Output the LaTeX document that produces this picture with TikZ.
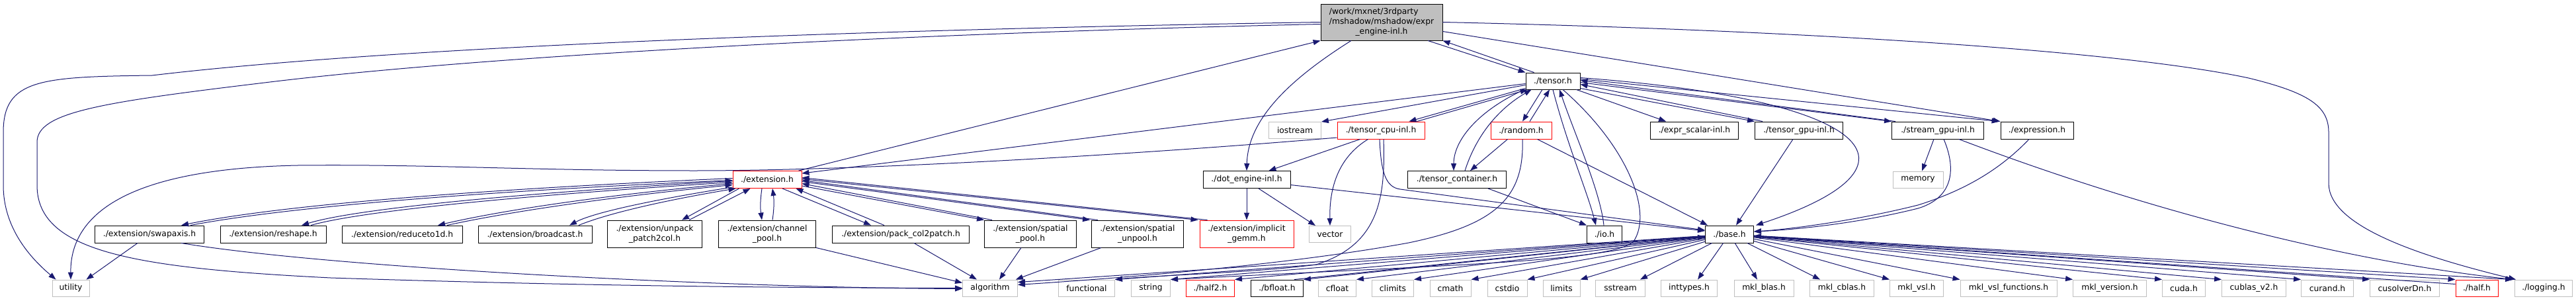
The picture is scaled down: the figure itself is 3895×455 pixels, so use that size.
\documentclass[tikz,border=0pt]{standalone}
\usepackage{fontspec}
\setmainfont{DejaVu Sans}
\usepackage{tikz}
\usetikzlibrary{arrows.meta,calc}

\definecolor{navyline}{HTML}{191970}
\definecolor{sysgray}{HTML}{BFBFBF}
\definecolor{cutred}{HTML}{FF0000}

\tikzset{
  box/.style={draw, line width=0.9pt, fill=white, inner sep=1pt, minimum height=26,
    font=\fontsize{12.3}{15}\selectfont},
  hdr/.style={box, draw=black},
  sys/.style={box, draw=sysgray, minimum height=25},
  trunc/.style={box, draw=cutred},
  two/.style={align=center, minimum height=41},
  inc/.style={draw=navyline, line width=1pt, -{Triangle[length=11pt,width=8pt]}},
}

\begin{document}
\begin{tikzpicture}[x=1pt, y=-1pt]
      \useasboundingbox (0,0) rectangle (3895,455);
      % the file itself
      \node[hdr, fill=sysgray, minimum width=184, minimum height=55] (main) at (2089,33.5)
        {\begin{tabular}{@{}l@{}}/work/mxnet/3rdparty\\/mshadow/mshadow/expr\\\multicolumn{1}{@{}c@{}}{\_engine-inl.h}\end{tabular}};
      % second and third row
      \node[hdr, minimum width=82, minimum height=25] (tensor) at (2348,122.5) {./tensor.h};
      \node[sys, minimum width=79] (iostream) at (1958,197) {iostream};
      \node[trunc, minimum width=132] (tcpu) at (2088,197) {./tensor\_cpu-inl.h};
      \node[trunc, minimum width=92] (random) at (2300,197) {./random.h};
      \node[hdr, minimum width=133] (exprscalar) at (2562,197) {./expr\_scalar-inl.h};
      \node[hdr, minimum width=133] (tgpu) at (2720,197) {./tensor\_gpu-inl.h};
      \node[hdr, minimum width=139] (streamgpu) at (2930,197) {./stream\_gpu-inl.h};
      \node[hdr, minimum width=110] (expression) at (3080,197) {./expression.h};
      \node[trunc, minimum width=104] (extension) at (1160,271.5) {./extension.h};
      \node[hdr, minimum width=132] (dotengine) at (1885,271.5) {./dot\_engine-inl.h};
      \node[hdr, minimum width=149] (tcontainer) at (2203,271.5) {./tensor\_container.h};
      \node[sys, minimum width=76] (memory) at (2900,271.5) {memory};
      % extension headers
      \node[hdr, minimum width=165] (swapaxis) at (226,354) {./extension/swapaxis.h};
      \node[hdr, minimum width=160] (reshape) at (413,354) {./extension/reshape.h};
      \node[hdr, minimum width=182] (reduceto) at (608,354) {./extension/reduceto1d.h};
      \node[hdr, minimum width=172] (broadcast) at (809,354) {./extension/broadcast.h};
      \node[hdr, two, minimum width=143] (unpack) at (990,353.5) {./extension/unpack\\\_patch2col.h};
      \node[hdr, two, minimum width=147] (channel) at (1160,353.5) {./extension/channel\\\_pool.h};
      \node[hdr, minimum width=207] (packcol) at (1362,354) {./extension/pack\_col2patch.h};
      \node[hdr, two, minimum width=139] (spool) at (1558,353.5) {./extension/spatial\\\_pool.h};
      \node[hdr, two, minimum width=139] (sunpool) at (1720,353.5) {./extension/spatial\\\_unpool.h};
      \node[trunc, two, minimum width=142] (gemm) at (1885,353.5) {./extension/implicit\\\_gemm.h};
      \node[sys, minimum width=63] (vector) at (2011,354) {vector};
      \node[hdr, minimum width=53] (io) at (2426,354) {./io.h};
      \node[hdr, minimum width=73] (base) at (2615,354) {./base.h};
      % bottom row
      \node[sys, minimum width=56] (utility) at (107,435.5) {utility};
      \node[sys, minimum width=83] (algorithm) at (1497,435.5) {algorithm};
      \node[sys, minimum width=85] (functional) at (1643,435.5) {functional};
      \node[sys, minimum width=59] (string) at (1740,435.5) {string};
      \node[trunc, minimum width=73, minimum height=25] (half2) at (1830,435.5) {./half2.h};
      \node[hdr, minimum width=79, minimum height=25] (bfloat) at (1931,435.5) {./bfloat.h};
      \node[sys, minimum width=57] (cfloat) at (2022,435.5) {cfloat};
      \node[sys, minimum width=63] (climits) at (2106,435.5) {climits};
      \node[sys, minimum width=62] (cmath) at (2193,435.5) {cmath};
      \node[sys, minimum width=60] (cstdio) at (2279,435.5) {cstdio};
      \node[sys, minimum width=56] (limits) at (2361,435.5) {limits};
      \node[sys, minimum width=75] (sstream) at (2450,435.5) {sstream};
      \node[sys, minimum width=85] (inttypes) at (2554,435.5) {inttypes.h};
      \node[sys, minimum width=90] (mklblas) at (2667,435.5) {mkl\_blas.h};
      \node[sys, minimum width=97] (mklcblas) at (2785,435.5) {mkl\_cblas.h};
      \node[sys, minimum width=81] (mklvsl) at (2898,435.5) {mkl\_vsl.h};
      \node[sys, minimum width=146] (mklvslf) at (3037,435.5) {mkl\_vsl\_functions.h};
      \node[sys, minimum width=111] (mklver) at (3190,435.5) {mkl\_version.h};
      \node[sys, minimum width=65] (cuda) at (3302,435.5) {cuda.h};
      \node[sys, minimum width=97] (cublas) at (3408,435.5) {cublas\_v2.h};
      \node[sys, minimum width=79] (curand) at (3519,435.5) {curand.h};
      \node[sys, minimum width=105] (cusolver) at (3636,435.5) {cusolverDn.h};
      \node[trunc, minimum width=64, minimum height=25] (half) at (3745,435.5) {./half.h};
      \node[sys, minimum width=87] (logging) at (3846,435.5) {./logging.h};

      % includes of the file itself
      \draw[inc] (main.west) .. controls (1300,45) and (600,70) .. (230,114) .. controls (60,116) and (5,120) .. (5,200) -- (5,280) .. controls (5,340) and (40,385) .. (utility.150);
      \draw[inc] ($(main.west)+(0,3)$) .. controls (1300,52) and (700,88) .. (400,125) .. controls (150,155) and (56,170) .. (56,215) -- (56,280) .. controls (56,380) and (200,405) .. (500,420) .. controls (900,433) and (1200,435) .. (algorithm.west);
      \draw[inc] ($(main.south)+(-46,0)$) .. controls (1950,120) and (1887,180) .. (dotengine.north);
      \draw[inc] ($(main.south)+(70,0)$) -- (tensor.north west);
      \draw[inc] ($(tensor.north west)+(13,0)$) -- (main.south east);
      \draw[inc] (main.east) .. controls (2700,45) and (3200,75) .. (3400,118) .. controls (3490,140) and (3521,160) .. (3521,200) -- (3521,277) .. controls (3521,340) and (3650,385) .. ($(logging.north west)+(2,0)$);
      \draw[inc] ($(main.east)+(0,14)$) -- (expression.north west);
      \draw[inc] ($(extension.north east)+(-5,0)$) -- (main.south west);

      % tensor.h
      \draw[inc] ($(tensor.west)+(0,6)$) -- (iostream.north east);
      \draw[inc] ($(tensor.west)+(0,4)$) -- ($(extension.north east)+(0,4)$);
      \draw[inc] ($(tensor.south west)+(0,-2)$) -- ($(tcpu.north east)+(-24,0)$);
      \draw[inc] ($(tcpu.north east)+(-12,0)$) -- ($(tensor.south west)+(3,0)$);
      \draw[inc] ($(tensor.south west)+(-2,0)$) .. controls (2230,170) and (2198,215) .. ($(tcontainer.north)+(-5,0)$);
      \draw[inc] ($(tcontainer.north)+(12,0)$) .. controls (2232,205) and (2265,165) .. ($(tensor.south west)+(9,0)$);
      \draw[inc] ($(tensor.south)+(-16,0)$) -- ($(random.north)+(2,0)$);
      \draw[inc] ($(random.north)+(13,0)$) -- ($(tensor.south)+(-5,0)$);
      \draw[inc] (tensor.south) .. controls (2370,220) and (2400,290) .. ($(io.north)+(-13,0)$);
      \draw[inc] ($(io.north)+(-1,0)$) .. controls (2420,290) and (2380,200) .. ($(tensor.south)+(10,0)$);
      \draw[inc] ($(tensor.south)+(15,0)$) .. controls (2460,220) and (2500,320) .. (2470,365) .. controls (2440,395) and (2200,400) .. (string.north east);
      \draw[inc] ($(tensor.south east)+(-6,0)$) -- ($(exprscalar.north west)+(24,0)$);
      \draw[inc] ($(tensor.east)+(0,11)$) -- (tgpu.north west);
      \draw[inc] ($(tgpu.north west)+(12,0)$) -- ($(tensor.east)+(0,5)$);
      \draw[inc] ($(tensor.east)+(0,2)$) -- (streamgpu.north west);
      \draw[inc] ($(streamgpu.north west)+(6,0)$) -- ($(tensor.east)+(0,-1)$);
      \draw[inc] ($(tensor.east)+(0,-3)$) -- ($(expression.north west)+(-2,0)$);
      \draw[inc] ($(tensor.east)+(0,-5)$) .. controls (2830,150) and (2930,250) .. ($(base.north east)+(3,0)$);

      % tensor_cpu-inl.h
      \draw[inc] ($(tcpu.south west)+(35,0)$) -- ($(dotengine.north east)+(-33,0)$);
      \draw[inc] ($(tcpu.south west)+(47,0)$) .. controls (2020,240) and (2010,290) .. (vector.north);
      \draw[inc] ($(tcpu.south)+(-2,0)$) .. controls (2088,260) and (2095,283) .. (2117,286) -- ($(base.west)+(0,-6)$);
      \draw[inc] ($(tcpu.south)+(4,0)$) .. controls (2095,300) and (2085,370) .. (1990,400) .. controls (1900,412) and (1750,416) .. (functional.north east);
      \draw[inc] ($(tcpu.west)+(0,11)$) .. controls (1700,235) and (1300,258) .. (1050,258) .. controls (800,258) and (650,248) .. (450,250) .. controls (200,255) and (106,320) .. (utility.north);

      % random.h, tensor_container.h
      \draw[inc] ($(random.south west)+(26,0)$) -- ($(tcontainer.north)+(20,0)$);
      \draw[inc] ($(random.south east)+(-22,0)$) -- ($(base.north west)+(4,0)$);
      \draw[inc] ($(random.south)+(2,0)$) .. controls (2305,300) and (2260,340) .. (2130,367) .. controls (1950,400) and (1700,420) .. ($(algorithm.east)+(0,-5)$);
      \draw[inc] ($(tcontainer.south)+(47,0)$) -- (io.north west);

      % dot_engine-inl.h
      \draw[inc] (dotengine.south) -- (gemm.north);
      \draw[inc] ($(dotengine.south)+(18,0)$) -- ($(vector.north west)+(10,0)$);
      \draw[inc] ($(dotengine.east)+(0,8)$) -- ($(base.west)+(0,-5)$);

      % gpu side
      \draw[inc] ($(tgpu.south)+(-9,0)$) -- ($(base.north)+(10,0)$);
      \draw[inc] ($(streamgpu.south)+(-6,0)$) -- ($(memory.north)+(6,0)$);
      \draw[inc] ($(streamgpu.south)+(9,0)$) .. controls (2960,260) and (2950,300) .. (2900,315) .. controls (2800,340) and (2700,348) .. ($(base.east)+(0,-4)$);
      \draw[inc] ($(streamgpu.south east)+(-38,0)$) .. controls (3250,320) and (3550,395) .. ($(logging.north west)+(-2,0)$);
      \draw[inc] ($(expression.south)+(-12,0)$) .. controls (3030,250) and (2980,285) .. (2900,310) .. controls (2800,335) and (2700,347) .. ($(base.east)+(0,-4)$);

      % extension.h and its headers
      \draw[inc] ($(extension.west)+(0,-2)$) .. controls (800,283) and (450,305) .. ($(swapaxis.north)+(48,0)$);
      \draw[inc] ($(swapaxis.north)+(62,0)$) .. controls (460,308) and (800,286) .. ($(extension.west)+(0,1)$);
      \draw[inc] ($(extension.west)+(0,2)$) .. controls (850,288) and (550,312) .. ($(reshape.north)+(43,0)$);
      \draw[inc] ($(reshape.north)+(57,0)$) .. controls (560,315) and (860,291) .. ($(extension.west)+(0,4)$);
      \draw[inc] ($(extension.west)+(0,6)$) .. controls (900,296) and (750,320) .. ($(reduceto.north)+(54,0)$);
      \draw[inc] ($(reduceto.north)+(68,0)$) .. controls (760,322) and (910,299) .. ($(extension.west)+(0,8)$);
      \draw[inc] ($(extension.south west)+(0,-2)$) .. controls (1000,300) and (900,320) .. ($(broadcast.north)+(52,0)$);
      \draw[inc] ($(broadcast.north)+(66,0)$) .. controls (920,322) and (1010,302) .. ($(extension.south west)+(5,0)$);
      \draw[inc] ($(extension.south west)+(10,0)$) -- ($(unpack.north)+(41,0)$);
      \draw[inc] ($(unpack.north)+(52,0)$) -- ($(extension.south west)+(27,0)$);
      \draw[inc] ($(extension.south)+(-8,0)$) to[bend right=8] ($(channel.north)+(-8,0)$);
      \draw[inc] ($(channel.north)+(8,0)$) to[bend right=8] ($(extension.south)+(8,0)$);
      \draw[inc] ($(extension.south)+(23,0)$) -- ($(packcol.north)+(-45,0)$);
      \draw[inc] ($(packcol.north)+(-25,0)$) -- ($(extension.south east)+(-9,0)$);
      \draw[inc] ($(extension.south east)+(0,-4)$) -- (spool.north west);
      \draw[inc] ($(spool.north west)+(12,0)$) -- ($(extension.east)+(0,6)$);
      \draw[inc] ($(extension.east)+(0,3)$) -- ($(sunpool.north west)+(-2,0)$);
      \draw[inc] ($(sunpool.north west)+(10,0)$) -- ($(extension.east)+(0,1)$);
      \draw[inc] ($(extension.east)+(0,-1)$) -- ($(gemm.north west)+(-2,0)$);
      \draw[inc] ($(gemm.north west)+(12,0)$) -- ($(extension.east)+(0,-3)$);

      % extension headers down to the system headers
      \draw[inc] ($(swapaxis.south west)+(65,0)$) -- ($(utility.north east)+(-5,0)$);
      \draw[inc] ($(swapaxis.south)+(48,0)$) .. controls (500,405) and (1100,435) .. ($(algorithm.west)+(0,1)$);
      \draw[inc] (channel.south east) -- ($(algorithm.west)+(0,-8)$);
      \draw[inc] ($(packcol.south)+(20,0)$) -- ($(algorithm.north)+(-20,0)$);
      \draw[inc] ($(spool.south)+(-14,0)$) -- ($(algorithm.north)+(14,0)$);
      \draw[inc] ($(sunpool.south west)+(15,0)$) -- ($(algorithm.north east)+(-3,0)$);

      % base.h
      \draw[inc] (base) -- ($(algorithm.north east)+(0,4)$);
      \draw[inc] (base) -- (functional.north east);
      \draw[inc] (base) -- (string.north east);
      \draw[inc] (base) -- (half2.north east);
      \draw[inc] (base) -- (bfloat.north east);
      \draw[inc] ($(bfloat.north east)+(-14,0)$) -- (base);
      \draw[inc] (base) -- (cfloat.north east);
      \draw[inc] (base) -- (climits.north east);
      \draw[inc] (base) -- (cmath.north east);
      \draw[inc] (base) -- (cstdio.north east);
      \draw[inc] (base) -- (limits.north east);
      \draw[inc] (base) -- ($(sstream.north east)+(-8,0)$);
      \draw[inc] (base) -- ($(inttypes.north)+(13,0)$);
      \draw[inc] (base) -- ($(mklblas.north)+(-10,0)$);
      \draw[inc] (base) -- ($(mklcblas.north west)+(16,0)$);
      \draw[inc] (base) -- (mklvsl.north west);
      \draw[inc] (base) -- (mklvslf.north west);
      \draw[inc] (base) -- (mklver.north west);
      \draw[inc] (base) -- (cuda.north west);
      \draw[inc] (base) -- (cublas.north west);
      \draw[inc] (base) -- (curand.north west);
      \draw[inc] (base) -- (cusolver.north west);
      \draw[inc] (base) -- (half.north west);
      \draw[inc] ($(half.west)+(0,-6)$) -- (base);
      \draw[inc] (base) -- ($(logging.north west)+(-3,0)$);
    \end{tikzpicture}
\end{document}
